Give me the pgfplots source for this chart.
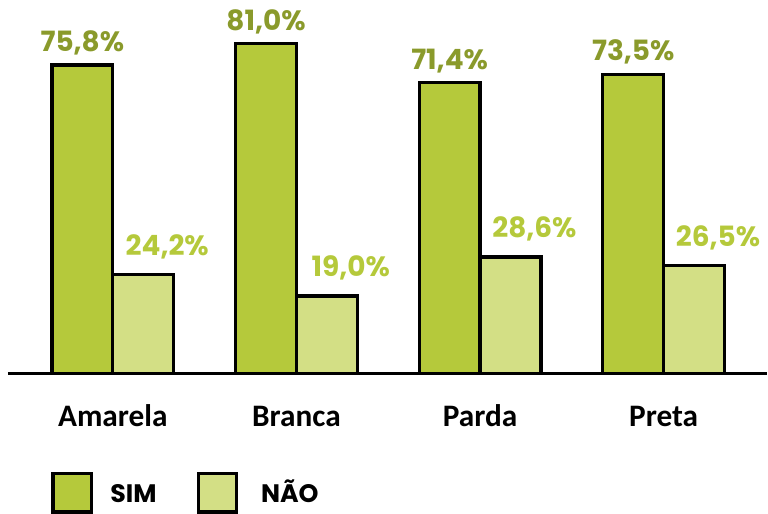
\documentclass[border=0pt]{standalone}
\usepackage{fontspec}
\setmainfont{Carlito}
\newfontfamily\pop{Poppins}
\usepackage{pgfplots}
\pgfplotsset{compat=1.18}
\definecolor{simfill}{HTML}{B5C93B}
\definecolor{naofill}{HTML}{D3DF85}
\definecolor{simlab}{HTML}{8A9A2B}
\definecolor{naolab}{HTML}{B5C93B}
\begin{document}
\begin{tikzpicture}
\path (-6pt,-105.75pt) rectangle (570pt,280.5pt);
\begin{axis}[
  at={(0,0)}, anchor=south west,
  scale only axis, width=570pt, height=259.9pt,
  xmin=-0.571, xmax=3.560, ymin=0, ymax=85,
  axis x line*=bottom, axis y line=none,
  x axis line style={line width=2.25pt, black, -},
  xtick={0,1,2,3}, xticklabels={Amarela,Branca,Parda,Preta},
  major tick length=0pt, ytick=\empty,
  xticklabel style={font=\bfseries\fontsize{23.5}{27}\selectfont, anchor=base, yshift=-40pt},
  clip=false,
  ybar, bar width=0.3315,
  /pgf/number format/.cd, use comma, fixed, fixed zerofill, precision=1, assume math mode=true, /pgfplots/.cd,
  nodes near coords={\pgfmathprintnumber{\pgfplotspointmeta}\%},
  legend style={at={(axis description cs:0.0566,-0.345)}, anchor=west, draw=none, fill=none,
    font=\pop\bfseries\fontsize{19}{23}\selectfont, inner sep=0pt,
    /tikz/every even column/.append style={column sep=28pt}},
  legend columns=2,
]
\addplot[fill=simfill, draw=black, line width=2.5pt, bar shift=-0.16575,
  nodes near coords style={font=\pop\bfseries\fontsize{21}{24}\selectfont, text=simlab, anchor=south, yshift=4pt, line width=0pt},
  legend image code/.code={\draw[fill=simfill, draw=black, line width=2.5pt] (0pt,-14.5pt) rectangle (29pt,14.5pt);}]
  coordinates {(0,75.8) (1,81.0) (2,71.4) (3,73.5)};
\addlegendentry{\hspace{11pt}\vphantom{NÃO}SIM}
\addplot[fill=naofill, draw=black, line width=2.5pt, bar shift=0.16575,
  nodes near coords style={font=\pop\bfseries\fontsize{21}{24}\selectfont, text=naolab, anchor=south, yshift=7pt, xshift=18pt},
  legend image code/.code={\draw[fill=naofill, draw=black, line width=2.5pt] (0pt,-14.5pt) rectangle (29pt,14.5pt);}]
  coordinates {(0,24.2) (1,19.0) (2,28.6) (3,26.5)};
\addlegendentry{\hspace{15pt}NÃO}
\end{axis}
\end{tikzpicture}
\end{document}
